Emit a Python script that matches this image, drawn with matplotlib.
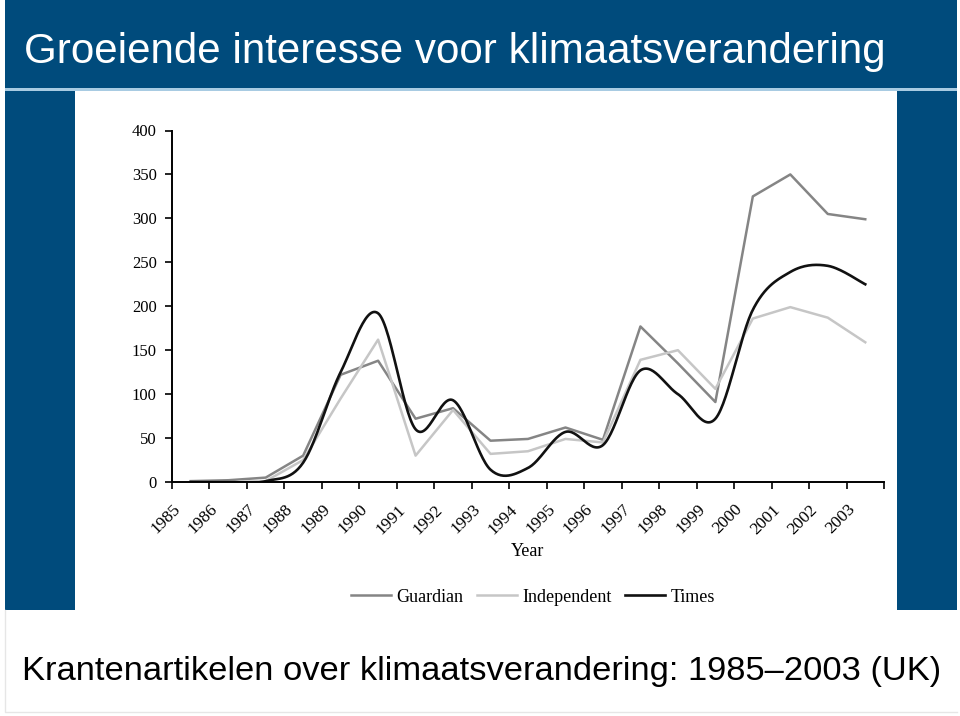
import numpy as np
import matplotlib
matplotlib.use("Agg")
import matplotlib.pyplot as plt
from matplotlib.patches import Rectangle
from matplotlib.lines import Line2D
from matplotlib.transforms import ScaledTranslation

W, H = 960, 716
BLUE = "#004b7c"
LIGHT_LINE = "#a8cbe2"
GUARDIAN_C = "#858585"
INDEP_C = "#c6c6c6"
TIMES_C = "#111111"

years = [str(y) for y in range(1985, 2004)]
guardian = [1, 2, 5, 30, 122, 138, 72, 84, 47, 49, 62, 48, 177, 135, 91, 325, 350, 305, 299]
independent = [0, 0, 1, 25, 95, 162, 30, 82, 32, 35, 49, 45, 139, 150, 106, 186, 199, 187, 159]
times = [0, 0, 1, 22, 125, 192, 60, 93, 14, 16, 57, 42, 127, 100, 72, 196, 239, 246, 225]
yticks = [0, 50, 100, 150, 200, 250, 300, 350, 400]


def fx(px):
    return px / W


def fy(py):
    return 1 - py / H


def smooth(xs, ys, n=30):
    # Excel-style smoothed line: Catmull-Rom through every point, drawn as cubic Bezier
    xs = np.asarray(xs, float)
    ys = np.asarray(ys, float)
    P = np.column_stack([xs, ys])
    P = np.vstack([P[0], P, P[-1]])
    t = np.linspace(0, 1, n)[:, None]
    out = []
    for i in range(1, len(P) - 2):
        p0, p3 = P[i], P[i + 1]
        c1 = p0 + (P[i + 1] - P[i - 1]) / 6
        c2 = p3 - (P[i + 2] - P[i]) / 6
        seg = ((1 - t) ** 3) * p0 + 3 * ((1 - t) ** 2) * t * c1 + 3 * (1 - t) * t ** 2 * c2 + t ** 3 * p3
        out.append(seg if i == 1 else seg[1:])
    out = np.vstack(out)
    return out[:, 0], out[:, 1]


fig = plt.figure(figsize=(W / 100, H / 100), dpi=100, facecolor="white")

# slide frame: top band, thin light rule, side bars
fig.add_artist(Rectangle((fx(5), fy(89)), fx(952), 89 / H, transform=fig.transFigure,
                         facecolor=BLUE, edgecolor="none", zorder=0))
fig.add_artist(Rectangle((fx(5), fy(90.5)), fx(952), 2 / H, transform=fig.transFigure,
                         facecolor=LIGHT_LINE, edgecolor="none", zorder=1))
fig.add_artist(Rectangle((fx(5), fy(610)), fx(70), 519 / H, transform=fig.transFigure,
                         facecolor=BLUE, edgecolor="none", zorder=0))
fig.add_artist(Rectangle((fx(897), fy(610)), fx(60), 519 / H, transform=fig.transFigure,
                         facecolor=BLUE, edgecolor="none", zorder=0))
fig.add_artist(Rectangle((fx(75), fy(610)), fx(822), 519 / H, transform=fig.transFigure,
                         facecolor="white", edgecolor="none", zorder=2))
fig.add_artist(Line2D([fx(5), fx(5), fx(957)], [fy(610), fy(712), fy(712)],
                      transform=fig.transFigure, color="#e6e6e6", linewidth=1))

fig.text(fx(24), fy(63), "Groeiende interesse voor klimaatsverandering", color="white",
         fontsize=30.3, family="Liberation Sans", ha="left", va="baseline")
fig.text(fx(22), fy(680), "Krantenartikelen over klimaatsverandering: 1985\u20132003 (UK)",
         color="black", fontsize=24.8, family="Liberation Sans", ha="left", va="baseline")

ax = fig.add_axes([fx(172), fy(482), fx(884) - fx(172), fy(130.5) - fy(482)], zorder=3)
ax.set_facecolor("none")
x = np.arange(len(years))
ax.plot(x, guardian, color=GUARDIAN_C, linewidth=1.8, label="Guardian")
ax.plot(x, independent, color=INDEP_C, linewidth=1.8, label="Independent")
sx, sy = smooth(x, times)
ax.plot(sx, sy, color=TIMES_C, linewidth=1.9, label="Times")

ax.set_xlim(-0.5, len(years) - 0.5)
ax.set_ylim(0, 400)
ax.set_yticks(yticks)
ax.set_xticks(np.arange(-0.5, len(years)), labels=[])
ax.set_xticks(x, labels=years, minor=True)
for side in ("top", "right"):
    ax.spines[side].set_visible(False)
for side in ("left", "bottom"):
    ax.spines[side].set_color("black")
    ax.spines[side].set_linewidth(1.4)
ax.tick_params(axis="y", length=5, width=1.2, pad=6, labelsize=12)
ax.tick_params(axis="x", which="major", length=5, width=1.2)
ax.tick_params(axis="x", which="minor", length=0, pad=14, labelsize=12.5)
for lab in ax.get_yticklabels():
    lab.set_family("Liberation Serif")
offset = ScaledTranslation(-7 / 100, 0, fig.dpi_scale_trans)
for lab in ax.get_xticklabels(minor=True):
    lab.set_family("Liberation Serif")
    lab.set_rotation(45)
    lab.set_ha("right")
    lab.set_transform(lab.get_transform() + offset)

fig.text(fx(528), fy(552), "Year", family="Liberation Serif", fontsize=13,
         ha="center", va="center", zorder=4)
ax.legend(loc="center", bbox_to_anchor=(fx(533), fy(597)), bbox_transform=fig.transFigure,
          ncol=3, frameon=False, prop={"family": "Liberation Serif", "size": 13},
          handlelength=2.2, handletextpad=0.3, columnspacing=0.75)

fig.savefig("out.png", dpi=100, facecolor="white")
